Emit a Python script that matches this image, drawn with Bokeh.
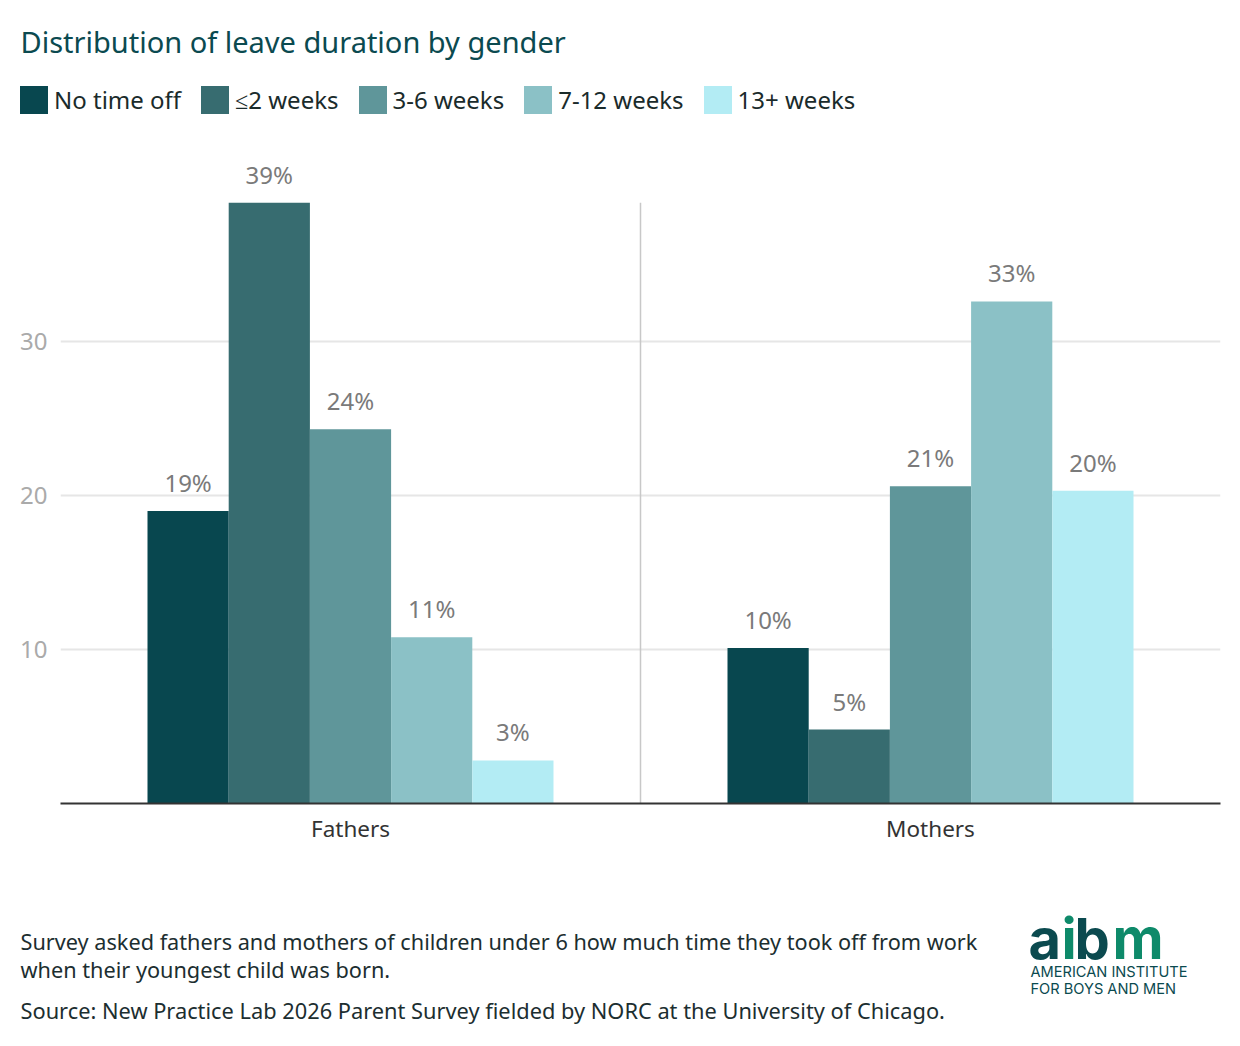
from bokeh.plotting import figure
from bokeh.models import (FactorRange, Range1d, Legend, LegendItem, FixedTicker,
                          ColumnDataSource)
from bokeh.transform import dodge
from bokeh.layouts import column
from bokeh.core.properties import value
from bokeh.embed import file_html
from bokeh.resources import INLINE

# ---------------- data ----------------
genders = ["Fathers", "Mothers"]
durations = ["No time off", "≤2 weeks", "3-6 weeks", "7-12 weeks", "13+ weeks"]
fathers = [19.0, 39.0, 24.3, 10.8, 2.8]
mothers = [10.1, 4.8, 20.6, 32.6, 20.3]
fathers_labels = ["19%", "39%", "24%", "11%", "3%"]
mothers_labels = ["10%", "5%", "21%", "33%", "20%"]
y_ticks = [10, 20, 30]

title_text = "Distribution of leave duration by gender"
note_lines = ["Survey asked fathers and mothers of children under 6 how much time they took off from work",
              "when their youngest child was born."]
source_line = "Source: New Practice Lab 2026 Parent Survey fielded by NORC at the University of Chicago."

# ---------------- style ----------------
colors = ["#08474f", "#376c70", "#5f969a", "#8bc1c6", "#b3ecf4"]
FONT = "Noto Sans"
W = 1230

# ---------------- header (title + legend) ----------------
HH = 130
h = figure(width=W, height=HH, x_range=Range1d(0, W), y_range=Range1d(HH, 0),
           x_axis_type=None, y_axis_type=None, output_backend="svg",
           toolbar_location=None, min_border=0, frame_align=False)
h.outline_line_color = None
h.grid.visible = False
h.text(x=[20], y=[41], text=[title_text], text_baseline="middle",
       text_font=value(FONT), text_font_size="29px", text_color="#0b4a50")

# zero-size swatch renderers: only used to draw the legend keys
swatches = []
for c in colors:
    swatches.append(h.vbar(x=[0], top=[0], width=0, fill_color=c, line_color=None))
legend = Legend(items=[LegendItem(label=d, renderers=[r]) for d, r in zip(durations, swatches)],
                orientation="horizontal", location=(16, 13))
legend.glyph_width = 35
legend.glyph_height = 35
legend.label_height = 35
legend.label_standoff = 3
legend.spacing = 16
legend.padding = 0
legend.margin = 0
legend.border_line_color = None
legend.background_fill_alpha = 0
legend.label_text_font = FONT
legend.label_text_font_size = "24px"
legend.label_text_color = "#1a2b2b"
h.add_layout(legend)

# ---------------- main chart ----------------
p = figure(x_range=FactorRange(*genders, range_padding=0), y_range=Range1d(0, 43.05),
           width=W, height=750, output_backend="svg", toolbar_location=None,
           min_border_left=60, min_border_right=10, min_border_bottom=77, min_border_top=10,
           frame_align=False)
p.outline_line_color = None

n = len(durations)
bar_w = 0.14
for i, d in enumerate(durations):
    off = (i - (n - 1) / 2) * bar_w
    src = ColumnDataSource(dict(g=genders, v=[fathers[i], mothers[i]],
                                lab=[fathers_labels[i], mothers_labels[i]]))
    p.vbar(x=dodge("g", off, range=p.x_range), top="v", width=bar_w, source=src,
           fill_color=colors[i], line_color=None)
    p.text(x=dodge("g", off, range=p.x_range), y="v", text="lab", source=src,
           text_align="center", text_baseline="bottom", y_offset=-12,
           text_font=value(FONT), text_font_size="24px", text_color="#7a7a7a")

# separator between groups
top_val = max(fathers + mothers)
p.segment(x0=[1.0], y0=[0], x1=[1.0], y1=[top_val], line_color="#c8c8c8", line_width=1.5)

# axes
p.xaxis.axis_line_color = "#333333"
p.xaxis.axis_line_width = 2
p.xaxis.major_tick_line_color = None
p.xaxis.minor_tick_line_color = None
p.xaxis.major_label_text_font = FONT
p.xaxis.major_label_text_font_size = "22.5px"
p.xaxis.major_label_text_color = "#333333"
p.xaxis.major_label_standoff = 3
p.xgrid.grid_line_color = None

p.yaxis.ticker = FixedTicker(ticks=y_ticks)
p.yaxis.axis_line_color = None
p.yaxis.major_tick_line_color = None
p.yaxis.minor_tick_line_color = None
p.yaxis.major_label_text_font = FONT
p.yaxis.major_label_text_font_size = "24px"
p.yaxis.major_label_text_color = "#aaaaaa"
p.yaxis.major_label_standoff = 7
p.ygrid.ticker = FixedTicker(ticks=y_ticks)
p.ygrid.grid_line_color = "#e6e6e6"
p.ygrid.grid_line_width = 2

# ---------------- footer ----------------
FH = 160
f = figure(width=W, height=FH, x_range=Range1d(0, W), y_range=Range1d(FH, 0),
           x_axis_type=None, y_axis_type=None, output_backend="svg",
           toolbar_location=None, min_border=0, frame_align=False)
f.outline_line_color = None
f.grid.visible = False

f.text(x=[20, 20], y=[61, 89], text=note_lines, text_baseline="middle",
       text_font=value(FONT), text_font_size="21.7px", text_color="#1c2e30")
f.text(x=[20], y=[130], text=[source_line], text_baseline="middle",
       text_font=value(FONT), text_font_size="21.8px", text_color="#1c2e30")

# logo
logo_letters = ["a", "i", "b", "m"]
logo_x = [1028, 1061, 1074, 1112]
logo_c = ["#0b4a4f", "#0e8a6a", "#0b4a4f", "#0e8a6a"]
f.text(x=logo_x, y=[58] * 4, text=logo_letters, text_baseline="alphabetic",
       text_font=value("Inter"), text_font_style="bold", text_font_size="56px",
       text_color=logo_c)
f.text(x=[1030, 1030], y=[91, 108.5], text=["AMERICAN INSTITUTE", "FOR BOYS AND MEN"],
       text_baseline="middle", text_font=value("Inter"), text_font_size="14.6px",
       text_color="#0b4a4f")

layout = column(h, p, f, spacing=0)
open("out.html", "w").write(file_html(layout, INLINE))
